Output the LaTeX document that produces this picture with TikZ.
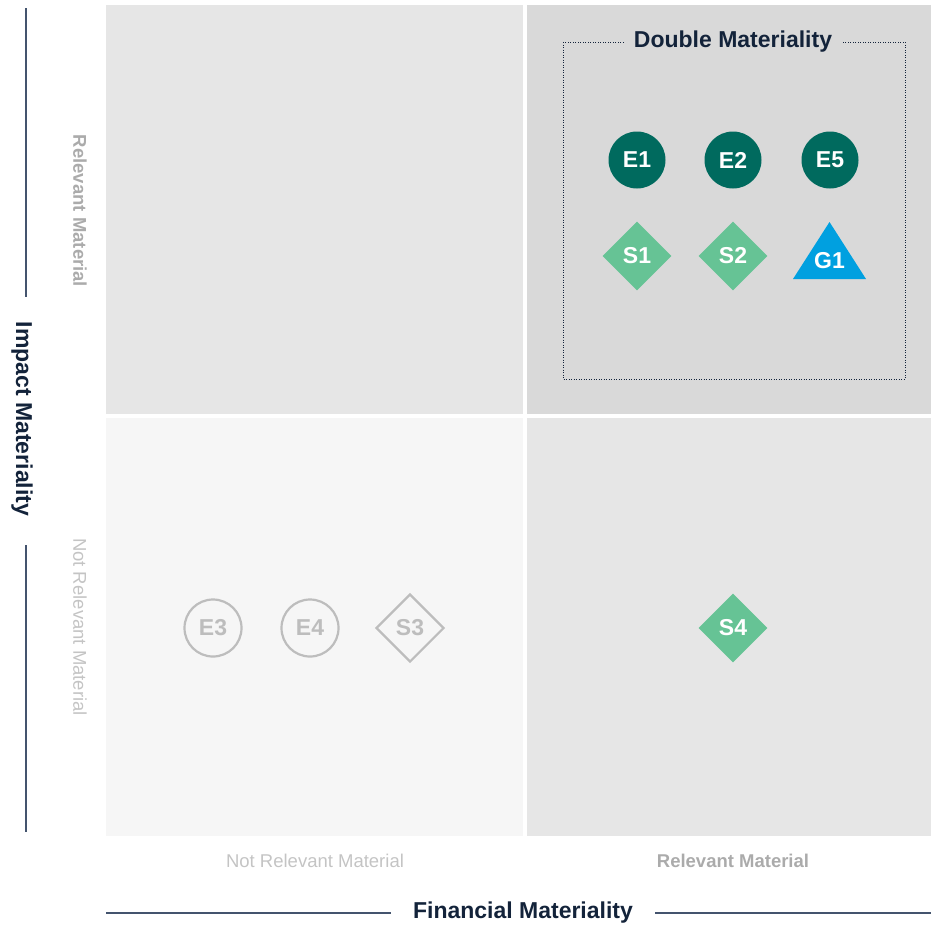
\documentclass[tikz,border=0pt]{standalone}
\usepackage{fontspec}
\setmainfont{Liberation Sans}
\usetikzlibrary{shapes.geometric}
\definecolor{navy}{HTML}{13233A}
\definecolor{rule}{HTML}{44546E}
\definecolor{teal}{HTML}{006A5E}
\definecolor{mint}{HTML}{66C395}
\definecolor{sky}{HTML}{00A0E0}
\definecolor{mute}{HTML}{BDBDBD}
\definecolor{lblb}{HTML}{ABABAB}
\definecolor{lbln}{HTML}{C4C4C4}
\definecolor{qa}{HTML}{E6E6E6}
\definecolor{qb}{HTML}{D9D9D9}
\definecolor{qc}{HTML}{F6F6F6}

\begin{document}
\begin{tikzpicture}[x=1pt,y=-1pt,
    env/.style={circle,fill=teal,text=white,minimum size=57pt,inner sep=0,font=\fontsize{23}{23}\selectfont\bfseries},
    soc/.style={diamond,fill=mint,text=white,minimum size=69pt,inner sep=0,font=\fontsize{23}{23}\selectfont\bfseries},
    off/.style={draw=mute,line width=2.2pt,text=mute,inner sep=0,font=\fontsize{23}{23}\selectfont\bfseries},
    axis/.style={text=navy,font=\fontsize{23}{23}\selectfont\bfseries},
    lvl/.style={text=lbln,font=\fontsize{18.5}{18.5}\selectfont}]
        \useasboundingbox (0,0) rectangle (931,927);
        % quadrants
        \fill[qa] (106,5) rectangle (523,414);
        \fill[qb] (527,5) rectangle (931,414);
        \fill[qc] (106,418) rectangle (523,836);
        \fill[qa] (527,418) rectangle (931,836);
        % double materiality frame
        \draw[navy,dotted,line width=0.9pt,dash pattern=on 0.9pt off 1.6pt] (563,42) rectangle (905,379);
        \node[axis,fill=qb,inner xsep=10pt] (dm) at (733,42) {Double Materiality};
        % topics
        \node[env] (e1) at (637,160) {E1};
        \node[env] (e2) at (733,160) {E2};
        \node[env] (e5) at (830,160) {E5};
        \node[soc] (s1) at (637,256) {S1};
        \node[soc] (s2) at (733,256) {S2};
        \fill[sky] (793,279) -- (829.5,222) -- (866,279) -- cycle;
        \node[text=white,font=\fontsize{23}{23}\selectfont\bfseries] (g1) at (829.5,261) {G1};
        \node[soc] (s4) at (733,628) {S4};
        \node[off,circle,minimum size=57pt] (e3) at (213,628) {E3};
        \node[off,circle,minimum size=57pt] (e4) at (310,628) {E4};
        \node[off,diamond,minimum size=68pt] (s3) at (410,628) {S3};
        % axes
        \node[axis,rotate=-90] (im) at (22,419) {Impact Materiality};
        \draw[rule,line width=1.2pt] (26,8) -- (26,297);
        \draw[rule,line width=1.2pt] (26,545) -- (26,832);
        \node[lvl,rotate=-90,text=lblb,font=\fontsize{18.5}{18.5}\selectfont\bfseries] (yr) at (80,211) {Relevant Material};
        \node[lvl,rotate=-90] (yn) at (80,627) {Not Relevant Material};
        \node[lvl] (xn) at (315,861) {Not Relevant Material};
        \node[lvl,text=lblb,font=\fontsize{18.5}{18.5}\selectfont\bfseries] (xr) at (733,861) {Relevant Material};
        \node[axis,inner xsep=22pt] (fm) at (523,913) {Financial Materiality};
        \draw[rule,line width=1.2pt] (106,913) -- (fm.west);
        \draw[rule,line width=1.2pt] (fm.east) -- (931,913);
\end{tikzpicture}
\end{document}
